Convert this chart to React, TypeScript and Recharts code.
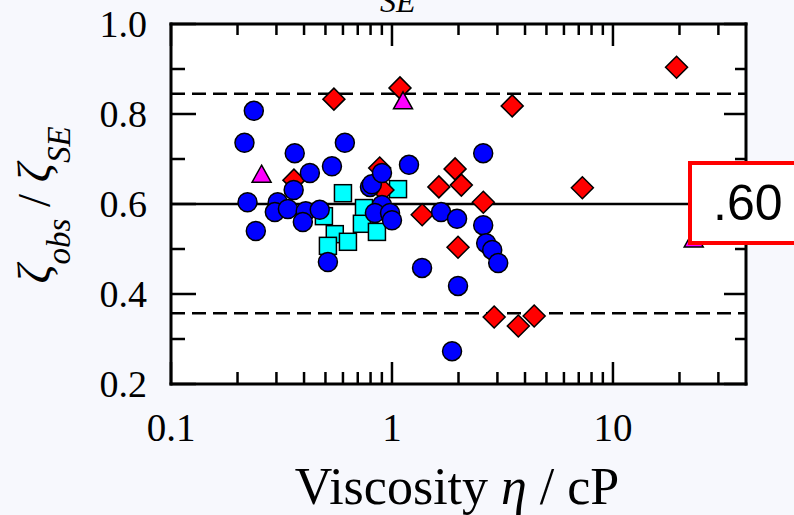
import React from "react";
import { ScatterChart, Scatter, XAxis, YAxis, ReferenceLine, CartesianGrid } from "recharts";

// blue circles
const circleX = [0.215, 0.237, 0.222, 0.242, 0.363, 0.359, 0.425, 0.535, 0.612, 0.304, 0.295, 0.338, 0.407, 0.395, 0.471, 0.513, 0.795, 0.811, 0.901, 0.901, 0.837, 0.98, 1.0, 1.194, 1.668, 1.97, 1.368, 1.99, 1.87, 2.587, 2.587, 2.668, 2.842, 3.025];
const circleY = [0.736, 0.807, 0.604, 0.54, 0.713, 0.631, 0.669, 0.684, 0.736, 0.604, 0.582, 0.589, 0.584, 0.56, 0.587, 0.471, 0.638, 0.644, 0.669, 0.598, 0.58, 0.58, 0.564, 0.687, 0.582, 0.567, 0.458, 0.418, 0.273, 0.713, 0.553, 0.513, 0.498, 0.469];

// cyan squares
const squareX = [0.6, 1.065, 0.492, 0.747, 0.731, 0.855, 0.551, 0.513, 0.632];
const squareY = [0.624, 0.633, 0.573, 0.591, 0.556, 0.538, 0.533, 0.507, 0.516];

// red diamonds
const diamondX = [0.546, 1.087, 3.5, 19.4, 7.27, 1.93, 1.63, 2.06, 2.59, 1.37, 1.99, 0.36, 0.88, 0.91, 2.9, 3.73, 4.4];
const diamondY = [0.833, 0.858, 0.818, 0.904, 0.636, 0.678, 0.638, 0.642, 0.604, 0.576, 0.504, 0.653, 0.68, 0.631, 0.349, 0.329, 0.351];

// magenta triangles
const triangleX = [0.257, 1.122, 23.2];
const triangleY = [0.664, 0.827, 0.52];

const xTicks = [0.1, 0.2, 0.3, 0.4, 0.5, 0.6, 0.7, 0.8, 0.9, 1, 2, 3, 4, 5, 6, 7, 8, 9, 10, 20, 30];
const xLabels = [0.1, 1, 10];
const yTicks = [0.2, 0.3, 0.4, 0.5, 0.6, 0.7, 0.8, 0.9, 1.0];
const yLabels = [0.2, 0.4, 0.6, 0.8, 1.0];

const meanRatio = 0.6;
const upperBound = 0.845;
const lowerBound = 0.357;
const boxText = ".60";

const serif = "'Liberation Serif', 'Times New Roman', serif";

const zip = (xs, ys) => xs.map((x, i) => ({ x, y: ys[i] }));
const circles = zip(circleX, circleY);
const squares = zip(squareX, squareY);
const diamonds = zip(diamondX, diamondY);
const triangles = zip(triangleX, triangleY);

const isMajor = (list, v) => list.some((l) => Math.abs(l - v) < 1e-9);

const BottomTick = ({ x, y, payload }) => {
  const major = isMajor(xLabels, payload.value);
  return (
    <g>
      <line x1={x} x2={x} y1={y} y2={y - (major ? 22 : 12)} stroke="#000" strokeWidth={2.5} />
      {major && (
        <text x={x} y={y + 57} textAnchor="middle" fontFamily={serif} fontSize={39} fill="#000">
          {payload.value}
        </text>
      )}
    </g>
  );
};

const TopTick = ({ x, y, payload }) => {
  const major = isMajor(xLabels, payload.value);
  return <line x1={x} x2={x} y1={y} y2={y + (major ? 22 : 11)} stroke="#000" strokeWidth={2.5} />;
};

const LeftTick = ({ x, y, payload }) => {
  const major = isMajor(yLabels, payload.value);
  return (
    <g>
      <line x1={x} x2={x + (major ? 25 : 14)} y1={y} y2={y} stroke="#000" strokeWidth={2.5} />
      {major && (
        <text x={x - 24} y={y + 13} textAnchor="end" fontFamily={serif} fontSize={38} fill="#000">
          {payload.value.toFixed(1)}
        </text>
      )}
    </g>
  );
};

const RightTick = ({ x, y, payload }) => {
  const major = isMajor(yLabels, payload.value);
  return <line x1={x} x2={x - (major ? 22 : 11)} y1={y} y2={y} stroke="#000" strokeWidth={2.5} />;
};

const CircleShape = ({ cx, cy }) => (
  <circle cx={cx} cy={cy} r={9.5} fill="#0000FF" stroke="#000" strokeWidth={1.5} />
);
const SquareShape = ({ cx, cy }) => (
  <rect x={cx - 8.5} y={cy - 8.5} width={17} height={17} fill="#00FFFF" stroke="#000" strokeWidth={1.5} />
);
const DiamondShape = ({ cx, cy }) => (
  <polygon
    points={`${cx},${cy - 11} ${cx + 11},${cy} ${cx},${cy + 11} ${cx - 11},${cy}`}
    fill="#FF0000"
    stroke="#000"
    strokeWidth={1.5}
  />
);
const TriangleShape = ({ cx, cy }) => (
  <polygon
    points={`${cx},${cy - 10} ${cx + 9.5},${cy + 7} ${cx - 9.5},${cy + 7}`}
    fill="#FF00FF"
    stroke="#000"
    strokeWidth={1.5}
  />
);

export default function App() {
  return (
    <div style={{ position: "absolute", left: 0, top: 0, width: 794, height: 515, overflow: "hidden", background: "#F7F8FD" }}>
      <ScatterChart width={794} height={515} margin={{ top: 23, right: 47, bottom: 0, left: 0 }}>
        <CartesianGrid xAxisId="b" yAxisId="l" fill="#FFFFFF" horizontal={false} vertical={false} stroke="none" />
        <XAxis
          xAxisId="b"
          dataKey="x"
          type="number"
          scale="log"
          domain={[0.1, 40]}
          allowDataOverflow
          ticks={xTicks}
          interval={0}
          height={131}
          tickSize={0}
          tickMargin={0}
          tickLine={false}
          tick={BottomTick}
          axisLine={{ stroke: "#000", strokeWidth: 3, strokeLinecap: "square" }}
        />
        <XAxis
          xAxisId="t"
          orientation="top"
          dataKey="x"
          type="number"
          scale="log"
          domain={[0.1, 40]}
          allowDataOverflow
          ticks={xTicks}
          interval={0}
          height={1}
          tickSize={0}
          tickMargin={0}
          tickLine={false}
          tick={TopTick}
          axisLine={{ stroke: "#000", strokeWidth: 3, strokeLinecap: "square" }}
        />
        <YAxis
          yAxisId="l"
          dataKey="y"
          type="number"
          domain={[0.2, 1.0]}
          allowDataOverflow
          ticks={yTicks}
          interval={0}
          width={171}
          tickSize={0}
          tickMargin={0}
          tickLine={false}
          tick={LeftTick}
          axisLine={{ stroke: "#000", strokeWidth: 3, strokeLinecap: "square" }}
        />
        <YAxis
          yAxisId="r"
          orientation="right"
          dataKey="y"
          type="number"
          domain={[0.2, 1.0]}
          allowDataOverflow
          ticks={yTicks}
          interval={0}
          width={1}
          tickSize={0}
          tickMargin={0}
          tickLine={false}
          tick={RightTick}
          axisLine={{ stroke: "#000", strokeWidth: 3, strokeLinecap: "square" }}
        />
        <ReferenceLine xAxisId="b" yAxisId="l" y={meanRatio} stroke="#000" strokeWidth={2.5} />
        <ReferenceLine xAxisId="b" yAxisId="l" y={upperBound} stroke="#000" strokeWidth={2.5} strokeDasharray="14 7" />
        <ReferenceLine xAxisId="b" yAxisId="l" y={lowerBound} stroke="#000" strokeWidth={2.5} strokeDasharray="14 7" />
        <Scatter xAxisId="t" yAxisId="r" data={[]} isAnimationActive={false} />
        <Scatter xAxisId="b" yAxisId="l" data={squares} shape={SquareShape} isAnimationActive={false} />
        <Scatter xAxisId="b" yAxisId="l" data={diamonds} shape={DiamondShape} isAnimationActive={false} />
        <Scatter xAxisId="b" yAxisId="l" data={circles} shape={CircleShape} isAnimationActive={false} />
        <Scatter xAxisId="b" yAxisId="l" data={triangles} shape={TriangleShape} isAnimationActive={false} />
      </ScatterChart>
      <svg width={794} height={515} style={{ position: "absolute", left: 0, top: 0, pointerEvents: "none" }}>
        <text x={380} y={12} fontFamily={serif} fontStyle="italic" fontSize={32} fill="#000">SE</text>
        <text x={457} y={504} textAnchor="middle" fontFamily={serif} fontSize={52} fill="#000">
          Viscosity <tspan fontStyle="italic">η</tspan> / cP
        </text>
        <text transform="translate(50,205) rotate(-90)" textAnchor="middle" fontFamily={serif} fontSize={47} fill="#000">
          <tspan fontStyle="italic">ζ</tspan>
          <tspan fontStyle="italic" fontSize={33} dy={20}>obs</tspan>
          <tspan dy={-20}> / </tspan>
          <tspan fontStyle="italic">ζ</tspan>
          <tspan fontStyle="italic" fontSize={33} dy={20}>SE</tspan>
        </text>
      </svg>
      <div
        style={{
          position: "absolute",
          left: 688,
          top: 161,
          width: 140,
          height: 76,
          border: "4px solid #FF0000",
          background: "#FFFFFF",
          boxSizing: "content-box",
        }}
      >
        <span
          style={{
            position: "absolute",
            left: 21,
            top: 3,
            fontFamily: "'Liberation Sans', Arial, sans-serif",
            fontSize: 50,
            lineHeight: "70px",
            color: "#000",
          }}
        >
          {boxText}
        </span>
      </div>
    </div>
  );
}
